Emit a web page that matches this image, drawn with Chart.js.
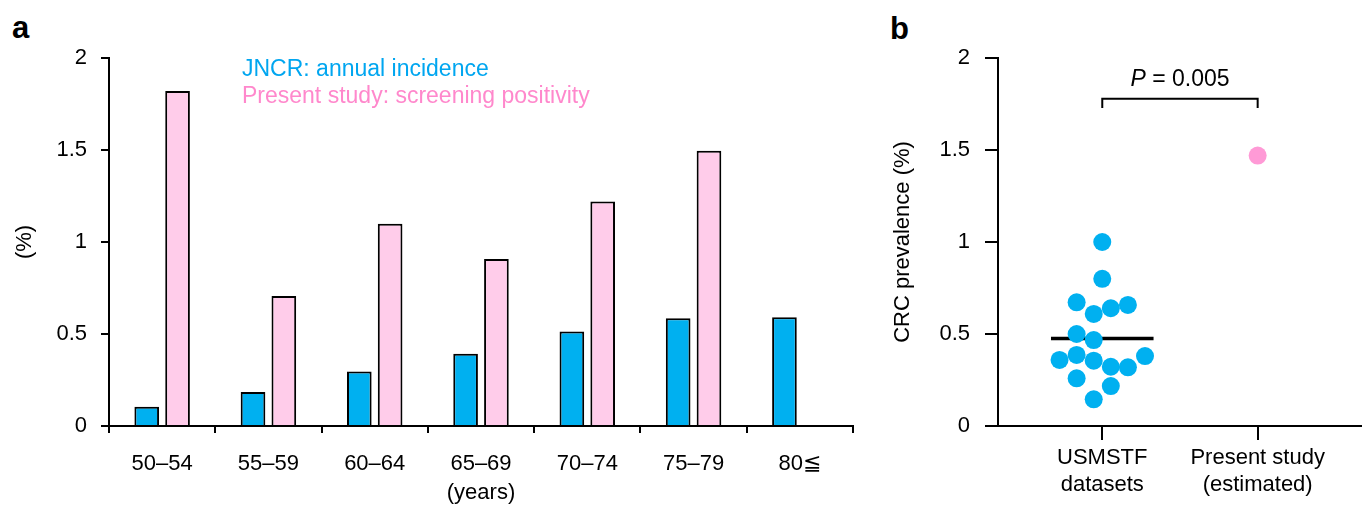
<!DOCTYPE html>
<html>
<head>
<meta charset="utf-8">
<script src="https://cdn.jsdelivr.net/npm/chart.js@4/dist/chart.umd.min.js"></script>
<style>
  html, body { margin: 0; padding: 0; background: #fff; }
  body { width: 1370px; height: 506px; position: relative; overflow: hidden; font-family: 'Liberation Sans', Arial, sans-serif; }
  canvas { position: absolute; top: 0; }
  #ca { left: 0; }
  #cb { left: 880px; }
  .plabel { position: absolute; font-weight: bold; font-size: 31px; line-height: 31px; color: #000; }
</style>
</head>
<body>
<div class="plabel" style="left:12px; top:12px;">a</div>
<div class="plabel" style="left:890px; top:13px;">b</div>
<canvas id="ca" width="880" height="506"></canvas>
<canvas id="cb" width="490" height="506"></canvas>
<script>
// ---------- Data: panel a ----------
const ageGroups = ['50–54', '55–59', '60–64', '65–69', '70–74', '75–79', '80≦'];
const jncrIncidence = [0.105, 0.185, 0.296, 0.392, 0.513, 0.586, 0.591];
const screeningPositivity = [1.82, 0.707, 1.099, 0.908, 1.22, 1.496, null];
const seriesNames = ['JNCR: annual incidence', 'Present study: screening positivity'];
const yTicksPct = [0, 0.5, 1, 1.5, 2];
const yTickLabels = ['0', '0.5', '1', '1.5', '2'];
const xTitleA = '(years)';
const yTitleA = '(%)';

// ---------- Data: panel b ----------
const usmstfPrevalence = [1.00, 0.80, 0.672, 0.609, 0.640, 0.658, 0.500, 0.467, 0.359, 0.386, 0.355, 0.322, 0.319, 0.380, 0.259, 0.217, 0.145];
const usmstfSwarmSlot = [0, 0, -1.5, -0.5, 0.5, 1.5, -1.5, -0.5, -2.5, -1.5, -0.5, 0.5, 1.5, 2.5, -1.5, 0.5, -0.5];
const presentEstimated = 1.47;
const groupLabels = [['USMSTF', 'datasets'], ['Present study', '(estimated)']];
const yTitleB = 'CRC prevalence (%)';
const pValue = '0.005';
const bracketLevel = 1.779;
const bracketDrop = 0.051;

// ---------- Styles ----------
const BLUE = '#00B0F0';
const PINK_FILL = '#FFCCEA';
const PINK_TEXT = '#FF88CC';
const PINK_DOT = '#FF9AD6';
const FONT = "'Liberation Sans', Arial, Helvetica, sans-serif";
Chart.defaults.font.family = FONT;
Chart.defaults.color = '#000';

const yTickText = (v) => { const i = yTicksPct.indexOf(v); return i >= 0 ? yTickLabels[i] : ''; };

// ---------- Panel a ----------
const legendTextPlugin = {
  id: 'legendText',
  afterDatasetsDraw(chart) {
    const ctx = chart.ctx;
    const ca = chart.chartArea;
    ctx.save();
    ctx.font = '23px ' + FONT;
    ctx.textBaseline = 'middle';
    ctx.textAlign = 'left';
    chart.data.datasets.forEach((ds, i) => {
      ctx.fillStyle = ds.legendColor;
      ctx.fillText(ds.label, ca.left + 133, ca.top + 12 + i * 27);
    });
    ctx.restore();
  }
};

new Chart(document.getElementById('ca'), {
  type: 'bar',
  data: {
    labels: ageGroups,
    datasets: [
      { label: seriesNames[0], data: jncrIncidence, backgroundColor: BLUE, borderColor: '#000', borderWidth: 2, legendColor: '#00A6F0' },
      { label: seriesNames[1], data: screeningPositivity, backgroundColor: PINK_FILL, borderColor: '#000', borderWidth: 2, legendColor: PINK_TEXT }
    ]
  },
  options: {
    responsive: false,
    devicePixelRatio: 1,
    animation: false,
    categoryPercentage: 0.58,
    barPercentage: 0.8,
    layout: { padding: { top: 58, right: 27, bottom: 0, left: 0 } },
    plugins: { legend: { display: false }, tooltip: { enabled: false } },
    scales: {
      x: {
        grid: { display: true, drawOnChartArea: false, drawTicks: true, tickLength: 7, color: '#000', lineWidth: 2, offset: true },
        border: { display: true, color: '#000', width: 2 },
        ticks: { font: { size: 22 }, color: '#000', padding: 18, maxRotation: 0 },
        title: { display: true, text: xTitleA, font: { size: 22 }, color: '#000', padding: { top: 0, bottom: 0 } },
        afterFit(s) { s.height = 80; }
      },
      y: {
        min: 0, max: 2,
        afterBuildTicks(s) { s.ticks = yTicksPct.map(v => ({ value: v })); },
        grid: { display: true, drawOnChartArea: false, drawTicks: true, tickLength: 8, color: '#000', lineWidth: 2 },
        border: { display: true, color: '#000', width: 2 },
        ticks: { font: { size: 22 }, color: '#000', padding: 14, callback: yTickText },
        title: { display: true, text: yTitleA, font: { size: 22 }, color: '#000', padding: { top: 12, bottom: 0 } },
        afterFit(s) { s.width = 109; }
      }
    }
  },
  plugins: [legendTextPlugin]
});

// ---------- Panel b ----------
const SLOT = 0.11;
const usmstfPoints = usmstfPrevalence.map((v, i) => ({ x: 0 + usmstfSwarmSlot[i] * SLOT, y: v }));
const usmstfMean = usmstfPrevalence.reduce((a, b) => a + b, 0) / usmstfPrevalence.length;

const pTextPlugin = {
  id: 'pText',
  afterDatasetsDraw(chart) {
    const ctx = chart.ctx;
    const xs = chart.scales.x, ys = chart.scales.y;
    const cx = xs.getPixelForValue(0.5);
    const cy = ys.getPixelForValue(1.88);
    ctx.save();
    ctx.textBaseline = 'middle';
    ctx.textAlign = 'left';
    const fi = 'italic 23px ' + FONT;
    const fr = '23px ' + FONT;
    ctx.font = fi; const w1 = ctx.measureText('P').width;
    ctx.font = fr; const rest = ' = ' + pValue; const w2 = ctx.measureText(rest).width;
    const x0 = cx - (w1 + w2) / 2;
    ctx.fillStyle = '#000';
    ctx.font = fi; ctx.fillText('P', x0, cy);
    ctx.font = fr; ctx.fillText(rest, x0 + w1, cy);
    ctx.restore();
  }
};

new Chart(document.getElementById('cb'), {
  type: 'scatter',
  data: {
    datasets: [
      { label: 'USMSTF datasets', data: usmstfPoints, backgroundColor: BLUE, borderWidth: 0, pointRadius: 9, pointHoverRadius: 9, order: 1 },
      { label: 'Present study (estimated)', data: [{ x: 1, y: presentEstimated }], backgroundColor: PINK_DOT, borderWidth: 0, pointRadius: 9, order: 1 },
      { label: 'mean', data: [{ x: -0.33, y: usmstfMean }, { x: 0.33, y: usmstfMean }], showLine: true, borderColor: '#000', borderWidth: 3.5, pointRadius: 0, order: 2 },
      { label: 'bracket', data: [{ x: 0, y: bracketLevel - bracketDrop }, { x: 0, y: bracketLevel }, { x: 1, y: bracketLevel }, { x: 1, y: bracketLevel - bracketDrop }], showLine: true, borderColor: '#000', borderWidth: 2, pointRadius: 0, order: 2 }
    ]
  },
  options: {
    responsive: false,
    devicePixelRatio: 1,
    animation: false,
    layout: { padding: { top: 58, right: 3, bottom: 0, left: 0 } },
    plugins: { legend: { display: false }, tooltip: { enabled: false } },
    scales: {
      x: {
        type: 'linear',
        min: -0.671, max: 1.665,
        afterBuildTicks(s) { s.ticks = [{ value: 0 }, { value: 1 }]; },
        grid: { display: true, drawOnChartArea: false, drawTicks: true, tickLength: 14, color: '#000', lineWidth: 2 },
        border: { display: true, color: '#000', width: 2 },
        ticks: { font: { size: 22, lineHeight: 1.22 }, color: '#000', padding: 5, maxRotation: 0, autoSkip: false,
                 callback: (v) => groupLabels[Math.round(v)] },
        afterFit(s) { s.height = 80; }
      },
      y: {
        min: 0, max: 2,
        afterBuildTicks(s) { s.ticks = yTicksPct.map(v => ({ value: v })); },
        grid: { display: true, drawOnChartArea: false, drawTicks: true, tickLength: 13, color: '#000', lineWidth: 2 },
        border: { display: true, color: '#000', width: 2 },
        ticks: { font: { size: 22 }, color: '#000', padding: 15, callback: yTickText },
        title: { display: true, text: yTitleB, font: { size: 22 }, color: '#000', padding: { top: 10, bottom: 0 } },
        afterFit(s) { s.width = 118; }
      }
    }
  },
  plugins: [pTextPlugin]
});
</script>
</body>
</html>
